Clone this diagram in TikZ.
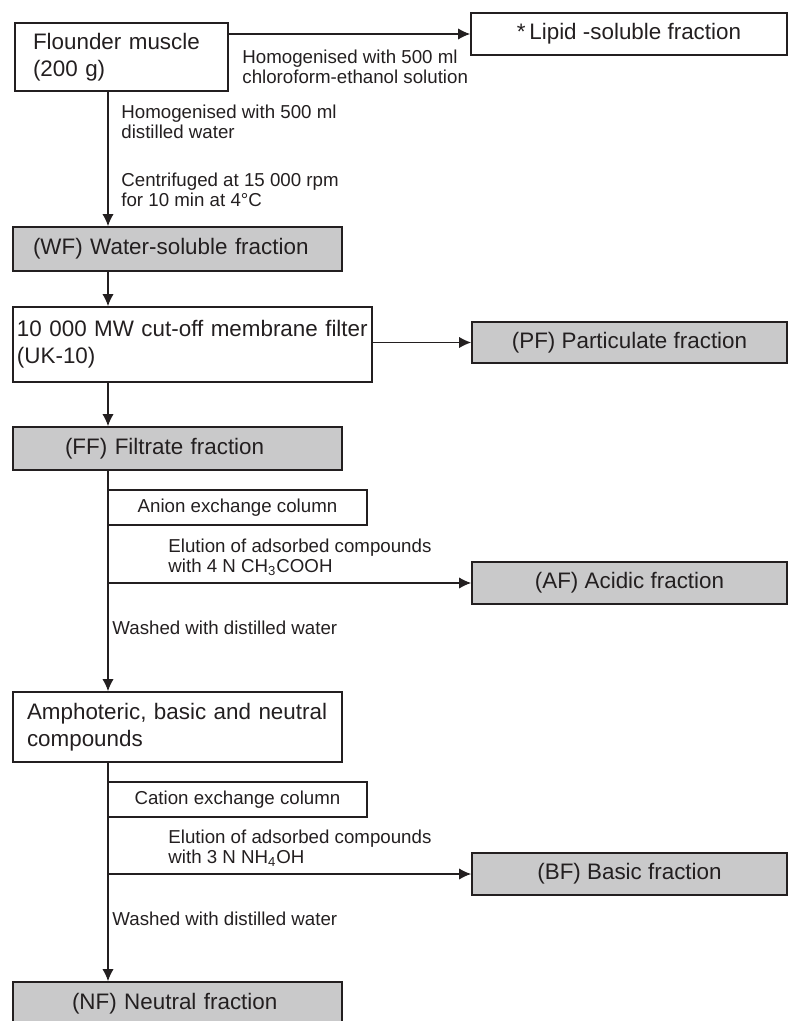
\documentclass[tikz,border=0pt]{standalone}
\usepackage{fontspec}
\setmainfont{Liberation Sans}
\usetikzlibrary{arrows.meta}
\definecolor{fracgray}{RGB}{201,201,202}
\definecolor{ink}{RGB}{35,31,32}
\tikzset{
  stepbox/.style={draw=ink, line width=0.8pt, rectangle, text=ink, inner ysep=0pt,
    font=\fontsize{11.2}{13.5}\selectfont},
  fracbox/.style={stepbox, fill=fracgray},
  colbox/.style={draw=ink, line width=0.8pt, text=ink, inner sep=0pt,
    minimum width=129.5pt, minimum height=17.5pt, font=\fontsize{9.35}{10}\selectfont},
  note/.style={align=left, inner sep=0pt, anchor=west, text=ink,
    font=\fontsize{9.35}{10}\selectfont},
  flow/.style={draw=ink, line width=0.7pt, -{Latex[length=6pt,width=5.6pt]}}
}
\begin{document}
\begin{tikzpicture}[x=0.5pt, y=-0.5pt]
    \useasboundingbox (0,0) rectangle (789,1021);
    \coordinate (spine) at (108,0);

    \node[stepbox, align=left, text width=88.5pt, inner xsep=9pt, minimum height=34pt] (flounder) at (121.5,57) {Flounder muscle\\(200 g)};
    \node[stepbox, minimum width=158pt, minimum height=21pt] (lipid) at (629,34) {*\,Lipid -soluble fraction};
    \node[fracbox, align=left, text width=144.5pt, inner xsep=10pt, minimum height=22pt] (wf) at (177.5,249) {(WF) Water-soluble fraction};
    \node[stepbox, align=left, text width=175.5pt, inner xsep=2pt, minimum height=37.5pt] (membrane) at (192.5,344.5) {10 000 MW cut-off membrane filter\\(UK-10)};
    \node[fracbox, minimum width=157.5pt, minimum height=20.5pt] (pf) at (629.5,342.5) {(PF) Particulate fraction};
    \node[fracbox, align=left, text width=112.5pt, inner xsep=26pt, minimum height=21.5pt] (ff) at (177.5,448.5) {(FF) Filtrate fraction};
    \node[colbox] (anion) at (237.5,507.5) {Anion exchange column};
    \node[fracbox, minimum width=157.5pt, minimum height=21pt] (af) at (629.5,583) {(AF) Acidic fraction};
    \node[stepbox, align=left, text width=150.5pt, inner xsep=7pt, minimum height=35pt] (amph) at (177.5,727) {Amphoteric, basic and neutral\\compounds};
    \node[colbox] (cation) at (237.5,799.5) {Cation exchange column};
    \node[fracbox, minimum width=157.5pt, minimum height=21pt] (bf) at (629.5,874) {(BF) Basic fraction};
    \node[fracbox, align=left, text width=105.5pt, inner xsep=29.5pt, minimum height=22pt] (nf) at (177.5,1004) {(NF) Neutral fraction};

    \node[note] (homlipid) at (242,67) {Homogenised with 500 ml\\chloroform-ethanol solution};
    \node[note] (homwater) at (121,122) {Homogenised with 500 ml\\distilled water};
    \node[note] (centri) at (121,190) {Centrifuged at 15 000 rpm\\for 10 min at 4°C};
    \node[note] (eluacid) at (168,557.5) {Elution of adsorbed compounds\\with 4 N CH\textsubscript{3}COOH};
    \node[note] (washacid) at (112,628) {Washed with distilled water};
    \node[note] (elubase) at (168,848.5) {Elution of adsorbed compounds\\with 3 N NH\textsubscript{4}OH};
    \node[note] (washbase) at (112,919) {Washed with distilled water};

    \draw[flow] (flounder.east |- lipid.west) -- (lipid.west);
    \draw[flow] (flounder.south -| spine) -- (wf.north -| spine);
    \draw[flow] (wf.south -| spine) -- (membrane.north -| spine);
    \draw[flow] (membrane.east |- pf.west) -- (pf.west);
    \draw[flow] (membrane.south -| spine) -- (ff.north -| spine);
    \draw[flow] (ff.south -| spine) -- (amph.north -| spine);
    \draw[flow] (af.west -| spine) -- (af.west);
    \draw[flow] (amph.south -| spine) -- (nf.north -| spine);
    \draw[flow] (bf.west -| spine) -- (bf.west);
\end{tikzpicture}
\end{document}
